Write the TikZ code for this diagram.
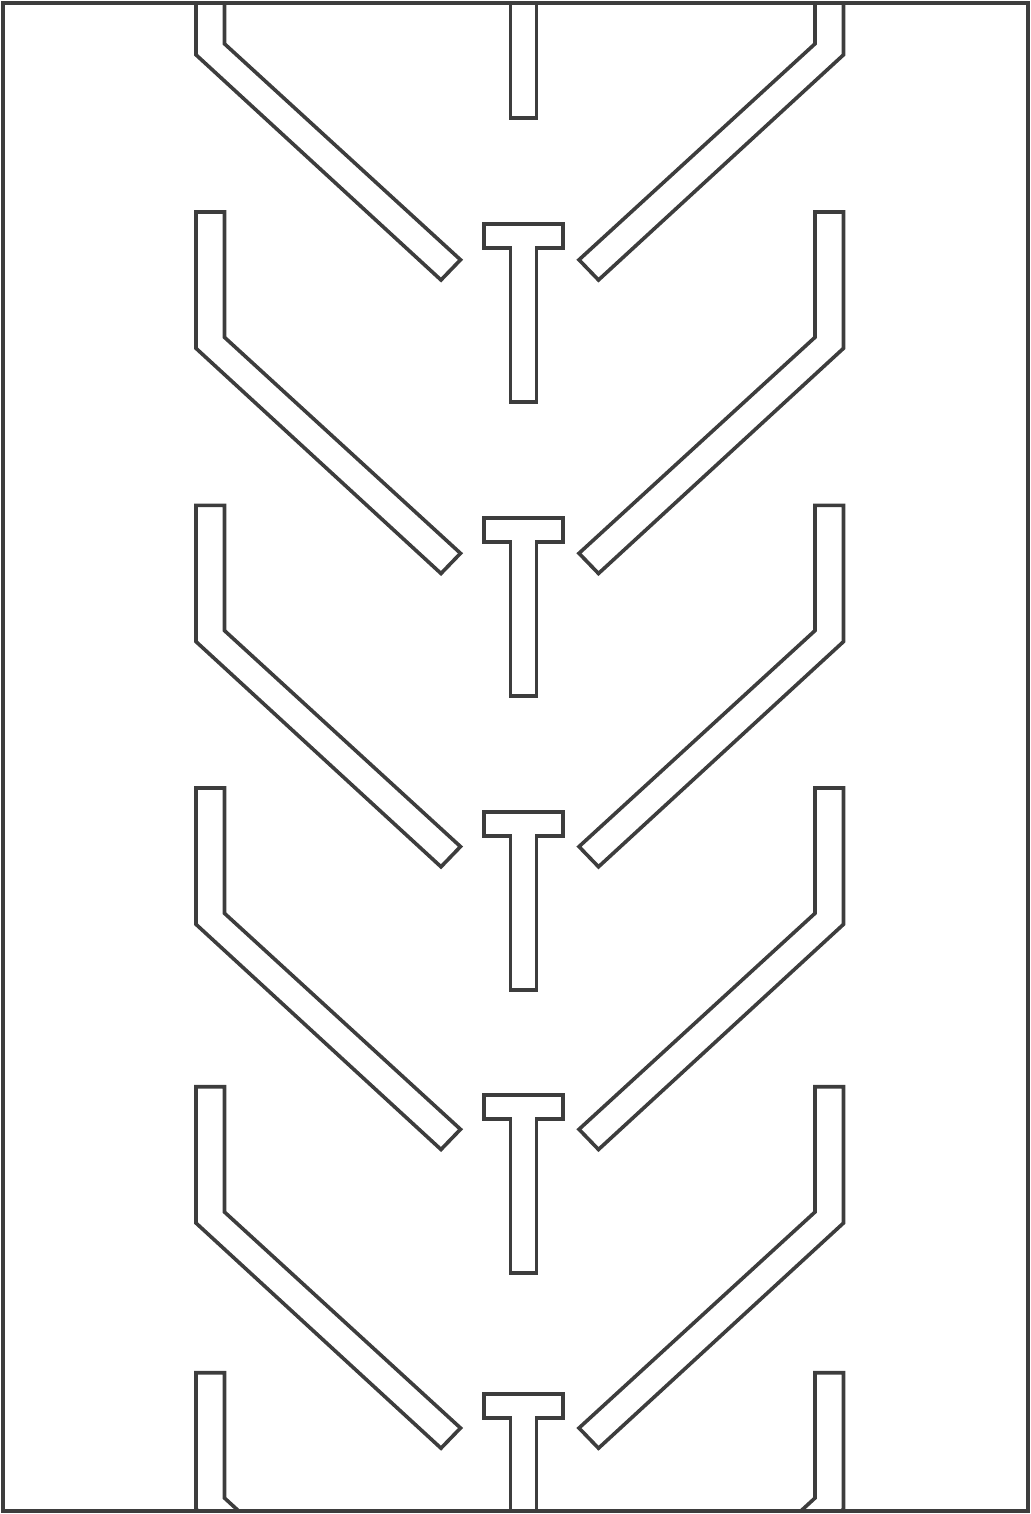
\documentclass[tikz,border=0pt]{standalone}
\definecolor{ink}{RGB}{61,61,61}
\begin{document}
\begin{tikzpicture}[x=0.5pt,y=-0.5pt,
  cleat/.style={draw=ink, line width=1.8pt, line join=miter},
  frame/.style={draw=ink, line width=2pt}]
\useasboundingbox (0,0) rectangle (1031,1514);
\begin{scope}
\clip (3,3) rectangle (1028,1511);
% chevron pairs
\foreach \y in {-81.5,212,505.3,788,1086.7,1372.7} {
  \draw[cleat, shift={(0,\y)}] (196,0) -- (224.5,0) -- (224.5,125.3) -- (460.5,341.3)
        -- (441,361.5) -- (196,136.3) -- cycle;
  \draw[cleat, shift={(0,\y)}] (843.5,0) -- (815,0) -- (815,125.3) -- (579,341.3)
        -- (598.5,361.5) -- (843.5,136.3) -- cycle;
}
% T cleats
\foreach \y in {-60,224,518,811.7,1094.7,1393.7} {
  \draw[cleat, shift={(0,\y)}] (483.7,0) -- (563,0) -- (563,24) -- (536.3,24)
        -- (536.3,178) -- (510.3,178) -- (510.3,24) -- (483.7,24) -- cycle;
}
\end{scope}
\draw[frame] (3,3) rectangle (1028,1511);
\end{tikzpicture}
\end{document}
